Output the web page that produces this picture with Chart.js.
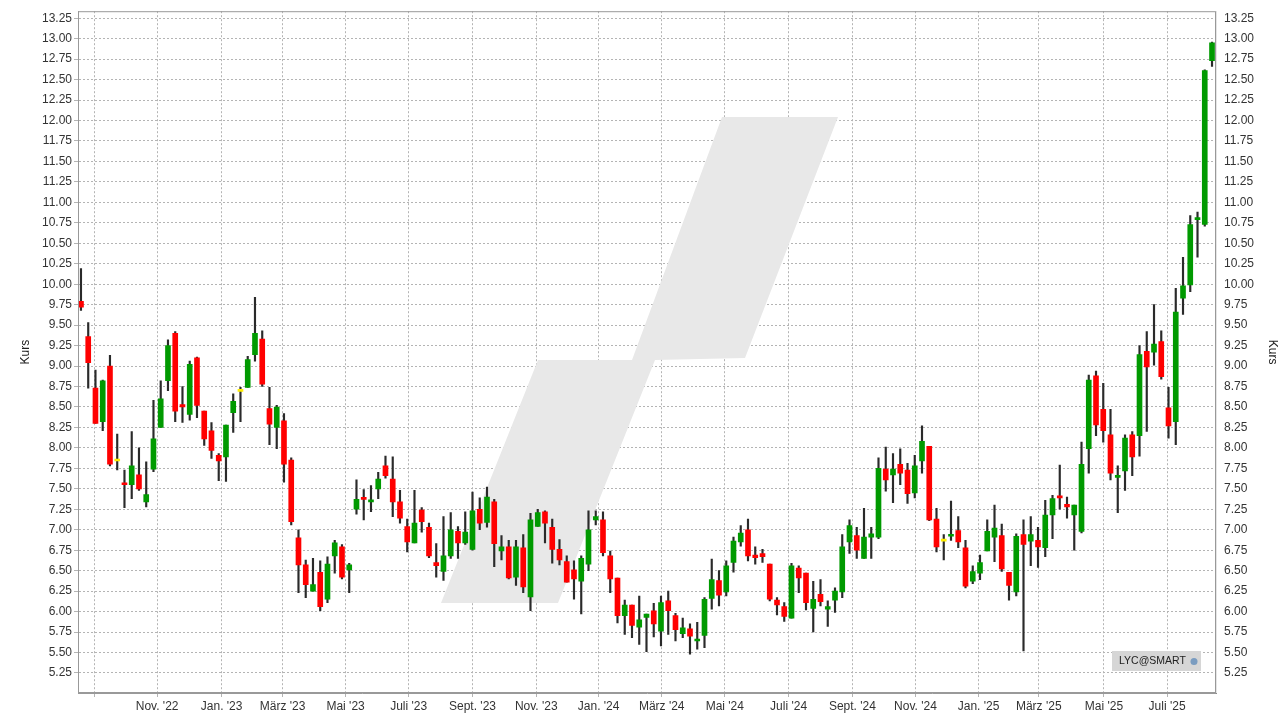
<!DOCTYPE html>
<html>
<head>
<meta charset="utf-8">
<script src="https://cdn.jsdelivr.net/npm/chart.js@4"></script>
<style>
  html, body { margin: 0; padding: 0; background: #fff; }
  #wrap { position: relative; width: 1280px; height: 719px; }
</style>
</head>
<body>
<div id="wrap"><canvas id="kursChart" width="1280" height="719"></canvas></div>
<script>
// Wochenkerzen: Eröffnung, Schluss, Hoch, Tief
const opens = [9.79,9.36,8.73,8.32,9.00,7.84,7.57,7.55,7.67,7.34,7.74,8.25,8.82,9.40,8.53,8.41,9.10,8.45,8.21,7.91,
  7.89,8.43,8.69,8.74,9.14,9.33,8.48,8.25,8.33,7.85,6.90,6.57,6.25,6.48,6.15,6.68,6.79,6.51,7.25,7.39,
  7.34,7.50,7.78,7.62,7.34,7.04,6.84,7.24,7.03,6.60,6.49,6.68,6.98,6.84,6.76,7.25,7.09,7.34,6.74,6.79,
  6.42,6.78,6.18,7.04,7.22,7.03,6.76,6.61,6.51,6.37,6.58,7.12,7.12,6.68,6.41,5.95,6.08,5.81,5.93,6.01,
  5.76,6.13,5.95,5.73,5.79,5.64,5.71,6.16,6.38,6.24,6.60,6.85,7.00,6.69,6.71,6.58,6.14,6.06,5.92,6.53,
  6.47,6.04,6.21,6.03,6.14,6.24,6.85,6.93,6.65,6.91,6.91,7.74,7.67,7.80,7.73,7.45,7.84,8.02,7.13,6.86,
  6.92,6.99,6.78,6.37,6.47,6.74,6.91,6.93,6.48,6.24,6.94,6.86,6.87,6.78,7.18,7.41,7.31,7.18,6.98,7.99,
  8.88,8.47,8.16,7.64,7.72,8.16,8.15,9.18,9.17,9.30,8.49,8.32,9.83,9.99,10.79,10.73,12.73];
const closes = [9.72,9.04,8.30,8.82,7.80,7.84,7.55,7.78,7.50,7.43,8.11,8.60,9.25,8.45,8.50,9.02,8.52,8.11,7.97,7.84,
  8.28,8.57,8.69,9.08,9.40,8.78,8.29,8.50,7.80,7.10,6.57,6.33,6.33,6.06,6.58,6.84,6.42,6.57,7.37,7.37,
  7.36,7.62,7.66,7.34,7.14,6.85,7.08,7.10,6.68,6.56,6.68,7.00,6.84,6.97,7.23,7.08,7.40,6.83,6.79,6.41,
  6.79,6.30,7.12,7.21,7.08,6.76,6.63,6.36,6.40,6.65,7.00,7.16,6.72,6.40,5.95,6.08,5.83,5.90,5.97,5.85,
  6.11,6.01,5.78,5.80,5.70,5.66,6.15,6.39,6.20,6.56,6.86,6.96,6.68,6.66,6.67,6.15,6.08,5.94,6.56,6.41,
  6.11,6.15,6.12,6.06,6.25,6.79,7.05,6.75,6.91,6.95,7.75,7.61,7.74,7.69,7.44,7.78,8.08,7.12,6.79,6.86,
  6.94,6.85,6.31,6.49,6.60,6.98,7.02,6.52,6.32,6.92,6.82,6.94,6.79,7.18,7.38,7.39,7.28,7.30,7.80,8.83,
  8.28,8.21,7.69,7.65,8.12,7.89,9.14,8.99,9.27,8.87,8.27,9.66,9.98,10.73,10.80,12.61,12.95];
const highs = [10.19,9.53,8.95,8.83,9.13,8.17,7.73,8.20,8.00,7.83,8.58,8.82,9.32,9.42,8.75,9.06,9.11,8.45,8.31,7.93,
  8.28,8.66,8.74,9.12,9.84,9.43,8.74,8.52,8.42,7.88,7.00,6.63,6.65,6.62,6.67,6.87,6.82,6.59,7.61,7.49,
  7.54,7.70,7.90,7.89,7.48,7.13,7.48,7.27,7.08,6.83,7.16,7.21,7.04,7.22,7.46,7.39,7.52,7.37,6.93,6.87,
  6.87,6.94,7.20,7.25,7.23,7.13,6.88,6.68,6.62,6.68,7.23,7.23,7.22,6.74,6.41,6.14,6.08,6.19,5.97,6.10,
  6.19,6.25,5.98,5.92,5.85,5.87,6.17,6.64,6.50,6.62,6.91,7.05,7.13,6.79,6.76,6.58,6.17,6.11,6.59,6.56,
  6.47,6.37,6.39,6.13,6.29,6.94,7.12,7.03,7.26,7.03,7.88,8.01,7.93,7.99,7.81,7.91,8.27,8.02,7.26,6.94,
  7.35,7.16,6.87,6.56,6.69,7.12,7.30,7.07,6.48,6.95,7.12,7.16,7.03,7.36,7.42,7.79,7.40,7.30,8.07,8.89,
  8.94,8.79,8.47,7.78,8.16,8.20,9.25,9.42,9.75,9.43,8.74,9.95,10.33,10.84,10.88,12.62,12.96];
const lows = [9.68,8.73,8.30,8.21,7.78,7.73,7.27,7.38,7.48,7.28,7.71,8.25,8.70,8.32,8.31,8.34,8.37,8.03,7.87,7.60,
  7.59,8.19,8.32,8.74,9.06,8.75,8.04,7.99,7.58,7.06,6.23,6.17,6.25,6.01,6.11,6.47,6.40,6.23,7.19,7.12,
  7.22,7.38,7.63,7.16,7.08,6.73,6.84,6.97,6.66,6.42,6.38,6.65,6.65,6.82,6.75,7.00,7.03,6.55,6.63,6.40,
  6.32,6.23,6.01,7.04,6.84,6.59,6.57,6.36,6.15,5.97,6.50,7.06,6.68,6.23,5.86,5.72,5.68,5.60,5.51,5.69,
  5.58,5.72,5.64,5.68,5.48,5.54,5.56,6.03,6.07,6.19,6.48,6.80,6.62,6.58,6.60,6.13,5.96,5.88,5.92,6.23,
  6.02,5.75,6.07,5.82,5.99,6.17,6.71,6.65,6.65,6.65,6.89,7.47,7.33,7.55,7.32,7.39,7.69,7.11,6.73,6.63,
  6.87,6.78,6.29,6.34,6.39,6.74,6.61,6.49,6.14,6.19,5.52,6.56,6.54,6.67,6.89,7.25,7.14,6.75,6.96,7.69,
  8.15,8.07,7.61,7.21,7.48,7.66,7.90,8.20,9.01,8.84,8.12,8.04,9.63,9.91,10.33,10.71,12.66];

// Monatsmarken (Position in Wochen) und Beschriftungen
const monthTicks = [1.8,10.5,19.4,27.8,36.5,45.2,54.0,62.8,71.4,80.1,88.8,97.6,106.4,115.1,123.8,132.1,141.1,149.8];
const monthLabels = ["","Nov. '22","Jan. '23","März '23","Mai '23","Juli '23","Sept. '23","Nov. '23","Jan. '24",
  "März '24","Mai '24","Juli '24","Sept. '24","Nov. '24","Jan. '25","März '25","Mai '25","Juli '25"];
const priceTicks = [];
for (let v = 5.25; v <= 13.25001; v += 0.25) priceTicks.push(+v.toFixed(2));

document.addEventListener("DOMContentLoaded", () => {
    const ctx = document.getElementById("kursChart");

    const bodies = opens.map((o, i) => ({ x: i, y: [o, closes[i]] }));
    const wicks = lows.map((l, i) => ({ x: i, y: [l, highs[i]] }));
    const bodyColors = opens.map((o, i) =>
        closes[i] > o ? "#009a00" : (closes[i] < o ? "#ff0000" : "#ffee00"));

    const fmt = v => v.toFixed(2);
    const font = { size: 12, family: "'Liberation Sans', Arial, sans-serif" };
    const gridStyle = { color: "#b4b4b4", lineWidth: 1, tickLength: 4 };

    // Hintergrund-Logo, Rahmen und Badge
    const decor = {
        id: "decor",
        beforeDatasetsDraw(chart) {
            const c = chart.ctx;
            c.save();
            c.fillStyle = "#e8e8e8";
            c.beginPath();
            c.moveTo(441, 603); c.lineTo(538, 360); c.lineTo(632, 360);
            c.lineTo(722, 117); c.lineTo(838, 117); c.lineTo(745, 358);
            c.lineTo(655, 360); c.lineTo(558, 603); c.closePath();
            c.fill();
            c.restore();
        },
        afterDraw(chart) {
            const c = chart.ctx, a = chart.chartArea;
            c.save();
            c.strokeStyle = "#999";
            c.lineWidth = 1;
            c.strokeRect(a.left + 0.5, a.top + 0.5, a.right - a.left - 1, a.bottom - a.top - 1);
            c.fillStyle = "#d6d6d6";
            c.fillRect(1112, 651, 89, 20);
            c.fillStyle = "#222";
            c.font = "10.5px 'Liberation Sans', Arial, sans-serif";
            c.textBaseline = "middle";
            c.fillText("LYC@SMART", 1119, 661.5);
            c.fillStyle = "#7a9cc0";
            c.beginPath(); c.arc(1194, 661.5, 3.5, 0, Math.PI * 2); c.fill();
            c.restore();
        }
    };

    new Chart(ctx, {
        type: "bar",
        data: {
            datasets: [{
                label: "Körper",
                data: bodies,
                backgroundColor: bodyColors,
                barThickness: 5,
                minBarLength: 2,
                grouped: false
            }, {
                label: "Docht",
                data: wicks,
                backgroundColor: "#2a2a2a",
                barThickness: 1.5,
                grouped: false
            }]
        },
        options: {
            responsive: false,
            animation: false,
            layout: { padding: 0 },
            plugins: { legend: { display: false }, tooltip: { enabled: false } },
            scales: {
                x: {
                    type: "linear",
                    offset: false,
                    min: -0.41,
                    max: 156.55,
                    afterBuildTicks: s => { s.ticks = monthTicks.map(v => ({ value: v })); },
                    afterFit: s => { s.height = 26; },
                    grid: { ...gridStyle, offset: false },
                    border: { dash: [2, 2], color: "#999" },
                    ticks: {
                        color: "#333",
                        font,
                        maxRotation: 0,
                        autoSkip: false,
                        padding: 2,
                        callback: (v, i) => monthLabels[i]
                    }
                },
                y: {
                    position: "left",
                    min: 5.005,
                    max: 13.336,
                    afterBuildTicks: s => { s.ticks = priceTicks.map(v => ({ value: v })); },
                    afterFit: s => { s.width = 78; },
                    grid: gridStyle,
                    border: { dash: [2, 2], color: "#999" },
                    title: { display: true, text: "Kurs", color: "#222", font, padding: { top: 18, bottom: 0 } },
                    ticks: { color: "#333", font, padding: 2, callback: v => fmt(v) }
                },
                y2: {
                    position: "right",
                    min: 5.005,
                    max: 13.336,
                    afterBuildTicks: s => { s.ticks = priceTicks.map(v => ({ value: v })); },
                    afterFit: s => { s.width = 64; },
                    grid: { display: false, tickLength: 4, color: "#999" },
                    title: { display: true, text: "Kurs", color: "#222", font, padding: { top: 0, bottom: 4 } },
                    ticks: { color: "#333", font, padding: 4, callback: v => fmt(v) }
                }
            }
        },
        plugins: [decor]
    });
});
</script>
</body>
</html>
